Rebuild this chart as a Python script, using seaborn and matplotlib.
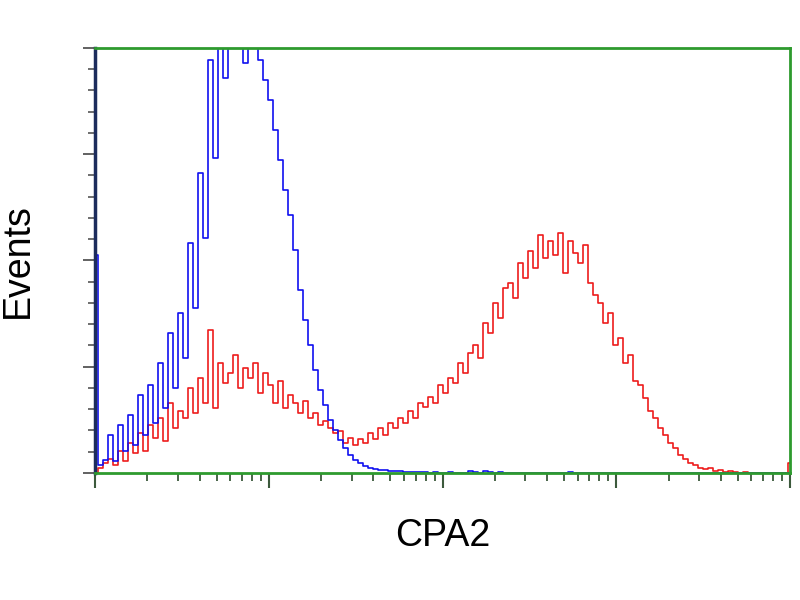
import numpy as np
import pandas as pd
import seaborn as sns
import matplotlib.pyplot as plt

sns.set_style("white")
plt.rcParams["font.family"] = ["Liberation Sans", "DejaVu Sans"]

# event counts per channel bin (140 bins across 4 log decades)
blue_counts = [
    218, 8, 13, 38, 12, 48, 22, 58, 28, 78, 38, 88, 50, 110, 65, 140, 85, 160, 115, 230,
    165, 300, 235, 413, 315, 450, 395, 460, 425, 470, 410, 455, 440, 413, 393, 373, 343, 313, 283, 258,
    223, 183, 153, 128, 103, 83, 68, 53, 43, 33, 25, 18, 13, 10, 7, 5, 4, 3, 3, 2,
    2, 2, 1, 1, 1, 1, 1, 0, 1, 0, 0, 1, 0, 0, 0, 2, 1, 0, 2, 1,
    0, 1, 0, 0, 0, 0, 0, 0, 0, 0, 0, 0, 0, 0, 0, 1, 0, 0, 0, 0,
    0, 0, 0, 0, 0, 0, 0, 0, 0, 0, 0, 0, 0, 0, 0, 0, 0, 0, 0, 0,
    0, 0, 0, 0, 0, 0, 0, 0, 0, 0, 0, 0, 0, 0, 0, 0, 0, 0, 0, 0,
]
red_counts = [
    0, 5, 10, 14, 8, 22, 12, 30, 20, 40, 22, 48, 35, 55, 32, 70, 45, 62, 55, 85,
    60, 95, 70, 143, 65, 110, 90, 100, 118, 85, 105, 95, 110, 80, 100, 88, 70, 92, 65, 78,
    70, 60, 72, 55, 60, 48, 52, 45, 40, 42, 30, 35, 28, 34, 30, 40, 34, 45, 38, 50,
    45, 55, 50, 62, 55, 70, 66, 76, 70, 88, 80, 95, 90, 110, 100, 120, 128, 115, 150, 140,
    170, 155, 185, 190, 175, 210, 195, 222, 205, 238, 215, 232, 218, 240, 200, 232, 220, 210, 228, 190,
    178, 170, 150, 160, 128, 135, 110, 118, 92, 88, 75, 62, 55, 45, 38, 30, 25, 18, 14, 10,
    8, 5, 4, 5, 2, 3, 1, 2, 1, 0, 1, 0, 0, 0, 0, 0, 0, 0, 0, 10,
]
channel = np.linspace(0, 1024, len(red_counts))

df = pd.DataFrame({"channel": np.concatenate([channel, channel]),
                   "events": red_counts + blue_counts,
                   "sample": ["CPA2"] * len(red_counts) + ["control"] * len(blue_counts)})

fig = plt.figure(figsize=(8, 6), dpi=100)
ax = fig.add_axes([0.119, 0.2117, 0.8685, 0.7083])

sns.lineplot(data=df[df["sample"] == "CPA2"], x="channel", y="events",
             color="#ee1c1c", lw=1.2, drawstyle="steps-mid", ax=ax)
sns.lineplot(data=df[df["sample"] == "control"], x="channel", y="events",
             color="#1010f0", lw=1.2, drawstyle="steps-mid", ax=ax)

ax.set_xlim(0, 1024)
ax.set_ylim(0, 425)

# log decade ticks on the channel axis
major_x = [0, 256, 512, 768, 1024]
minor_x = [d * 256 + 256 * np.log10(k) for d in range(4) for k in range(2, 10)]
ax.set_xticks(major_x)
ax.set_xticks(minor_x, minor=True)
ax.set_yticks(np.arange(0, 426, 106.25))
ax.set_yticks(np.arange(0, 426, 21.25), minor=True)
ax.set_xticklabels([])
ax.set_yticklabels([])
ax.tick_params(axis="x", which="major", direction="out", length=11, width=1.5, color="#3c5a3c", bottom=True)
ax.tick_params(axis="x", which="minor", direction="out", length=6, width=1.3, color="#3c5a3c", bottom=True)
ax.tick_params(axis="y", which="major", direction="out", length=9, width=1.3, color="#555555", left=True)
ax.tick_params(axis="y", which="minor", direction="out", length=5, width=1.2, color="#555555", left=True)

for side in ["top", "right", "bottom"]:
    ax.spines[side].set_color("#2e9a2e")
    ax.spines[side].set_linewidth(2)
ax.spines["left"].set_color("#1c2c5c")
ax.spines["left"].set_linewidth(2.5)

ax.set_xlabel("CPA2", fontsize=27, labelpad=18, color="black")
ax.set_ylabel("Events", fontsize=27, labelpad=30, color="black")

fig.savefig("out.png", dpi=100)
